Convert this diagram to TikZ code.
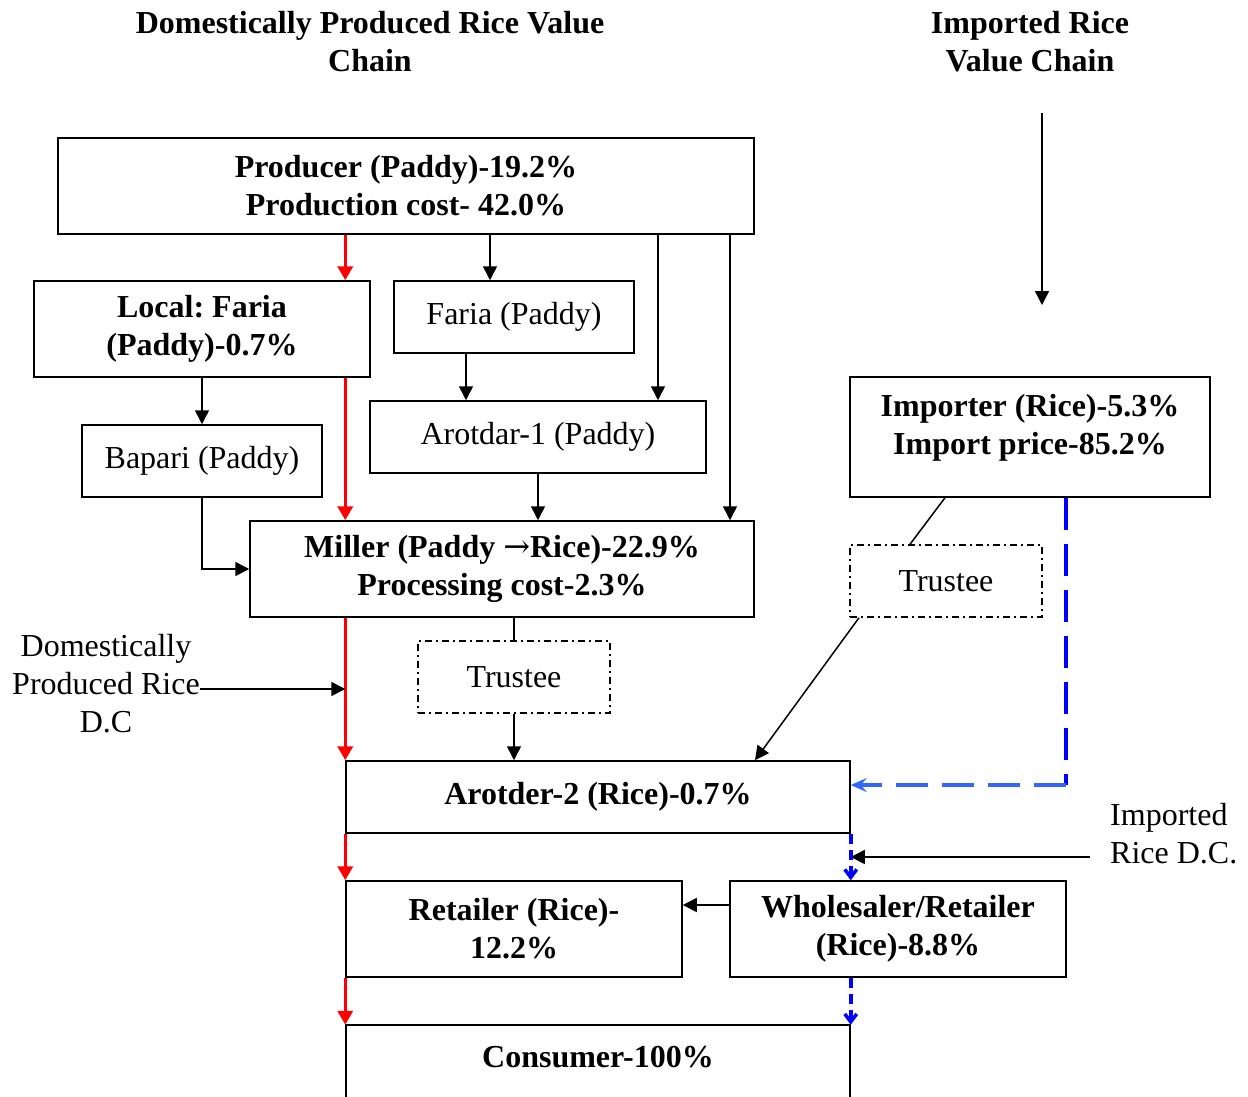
\documentclass[tikz,border=0pt]{standalone}
\usepackage{fontspec}
\setmainfont{Liberation Serif}
\newfontfamily\arrowfont{DejaVu Serif}
\usetikzlibrary{arrows.meta,calc}
\begin{document}
\frenchspacing
\begin{tikzpicture}[x=1pt,y=-1pt,
  font=\fontsize{32}{38}\selectfont,
  box/.style={draw=black,line width=1.5pt,rectangle,align=center,inner sep=0pt},
  bbox/.style={box,font=\fontsize{32}{38}\selectfont\bfseries},
  trust/.style={box,dash pattern=on 7pt off 4pt on 2pt off 4pt},
  plain/.style={align=center,inner sep=0pt},
  blk/.style={line width=1.5pt,-{Triangle[length=14pt,width=14pt]}},
  redar/.style={draw=red,line width=3.5pt,-{Triangle[length=14pt,width=15pt]}},
  bluelong/.style={draw=blue,line width=4pt,dash pattern=on 32pt off 14pt},
  bluehor/.style={draw={rgb,255:red,51;green,102;blue,255},line width=4pt,dash pattern=on 32pt off 14pt,-{Stealth[length=16pt,width=14pt,inset=6pt]}},
  blueshort/.style={draw=blue,line width=3.5pt,dash pattern=on 10pt off 6pt,-{Straight Barb[length=8pt,width=12pt]}}
]
\clip (0,0) rectangle (1248,1096);
\fill[white] (0,0) rectangle (1248,1096);

% titles
\node[plain,font=\fontsize{32}{38}\selectfont\bfseries] (t1) at (370,42) {Domestically Produced Rice Value\\Chain};
\node[plain,font=\fontsize{32}{38}\selectfont\bfseries] (t2) at (1030,42) {Imported Rice\\Value Chain};

% boxes
\node[bbox,minimum width=696,minimum height=96] (prod) at (406,186) {Producer (Paddy)-19.2\%\\Production cost- 42.0\%};
\node[bbox,minimum width=336,minimum height=96] (lf) at (202,329) {\raisebox{0pt}{Local: Faria}\\(Paddy)-0.7\%};
\node[box,minimum width=240,minimum height=72] (faria) at (514,317) {Faria (Paddy)};
\node[box,minimum width=336,minimum height=72] (aro1) at (538,437) {Arotdar-1 (Paddy)};
\node[box,minimum width=240,minimum height=72] (bap) at (202,461) {Bapari (Paddy)};
\node[bbox,minimum width=504,minimum height=96] (mill) at (502,569) {Miller (Paddy {\arrowfont\mdseries →}Rice)-22.9\%\\Processing cost-2.3\%};
\node[trust,minimum width=192,minimum height=72] (tr1) at (514,677) {Trustee};
\node[bbox,minimum width=360,minimum height=120] (imp) at (1030,437) {};
\node[plain,font=\fontsize{32}{38}\selectfont\bfseries] (impt) at (1030,428) {Importer (Rice)-5.3\%\\Import price-85.2\%};
\node[trust,minimum width=192,minimum height=72] (tr2) at (946,581) {Trustee};
\node[bbox,minimum width=504,minimum height=72] (aro2) at (598,797) {Arotder-2 (Rice)-0.7\%};
\node[bbox,minimum width=336,minimum height=96] (ret) at (514,929) {Retailer (Rice)-\\12.2\%};
\node[bbox,minimum width=336,minimum height=96] (whole) at (898,929) {Wholesaler/Retailer\\(Rice)-8.8\%};
\node[plain,font=\fontsize{32}{38}\selectfont\bfseries,minimum width=504,minimum height=64] (cons) at (598,1057) {Consumer-100\%};
\draw[line width=1.5pt] ([yshift=-30pt]cons.south west) -- (cons.north west) -- (cons.north east) -- ([yshift=-30pt]cons.south east);

% side labels
\node[plain] (dlab) at (106,684) {Domestically\\Produced Rice\\D.C};
\node[plain,align=left,anchor=west] (ilab) at (1110,834) {Imported\\Rice D.C.};
\coordinate (topA) at (1042,113);
\coordinate (topB) at (1042,305);

% red domestic chain
\draw[redar] (prod.south -| aro2.west) -- (lf.north -| aro2.west);
\draw[redar] (lf.south -| aro2.west) -- (mill.north -| aro2.west);
\draw[redar] (mill.south -| aro2.west) -- (aro2.north -| aro2.west);
\draw[redar] (aro2.south -| aro2.west) -- (ret.north -| aro2.west);
\draw[redar] (ret.south -| aro2.west) -- (cons.north -| aro2.west);

% black connectors
\draw[blk] (prod.south -| 490,0) -- (faria.north -| 490,0);
\draw[blk] (prod.south -| 658,0) -- (aro1.north -| 658,0);
\draw[blk] (prod.south -| 730,0) -- (mill.north -| 730,0);
\draw[blk] (faria.south -| 466,0) -- (aro1.north -| 466,0);
\draw[blk] (lf.south) -- (bap.north);
\draw[blk] (aro1.south) -- (mill.north -| aro1.south);
\draw[blk] (bap.south) -- (bap.south |- 0,569) -- (mill.west);
\draw[line width=1.5pt] (mill.south -| tr1.north) -- (tr1.north);
\draw[blk] (tr1.south) -- (aro2.north -| tr1.south);
\draw[line width=1.5pt] (imp.south -| 945,0) -- (tr2.north -| 910,0);
\draw[blk] (tr2.south -| 859,0) -- (aro2.north -| 755,0);
\draw[blk] (whole.west |- 0,905) -- (ret.east |- 0,905);
\draw[blk] ([yshift=-5pt]dlab.east) -- (aro2.west |- 0,689);
\draw[blk] (ilab.west |- 0,857) ++(-20,0) -- (aro2.east |- 0,857);
\draw[blk] (topA) -- (topB);

% blue imported chain
\draw[bluelong] (imp.south -| 1066,0) -- (1066,785);
\draw[bluehor] (1066,785) -- (aro2.east |- 0,785);
\draw[blueshort] (aro2.south -| aro2.east) -- (whole.north -| aro2.east);
\draw[blueshort] (whole.south -| aro2.east) -- (cons.north -| aro2.east);
\end{tikzpicture}
\end{document}
